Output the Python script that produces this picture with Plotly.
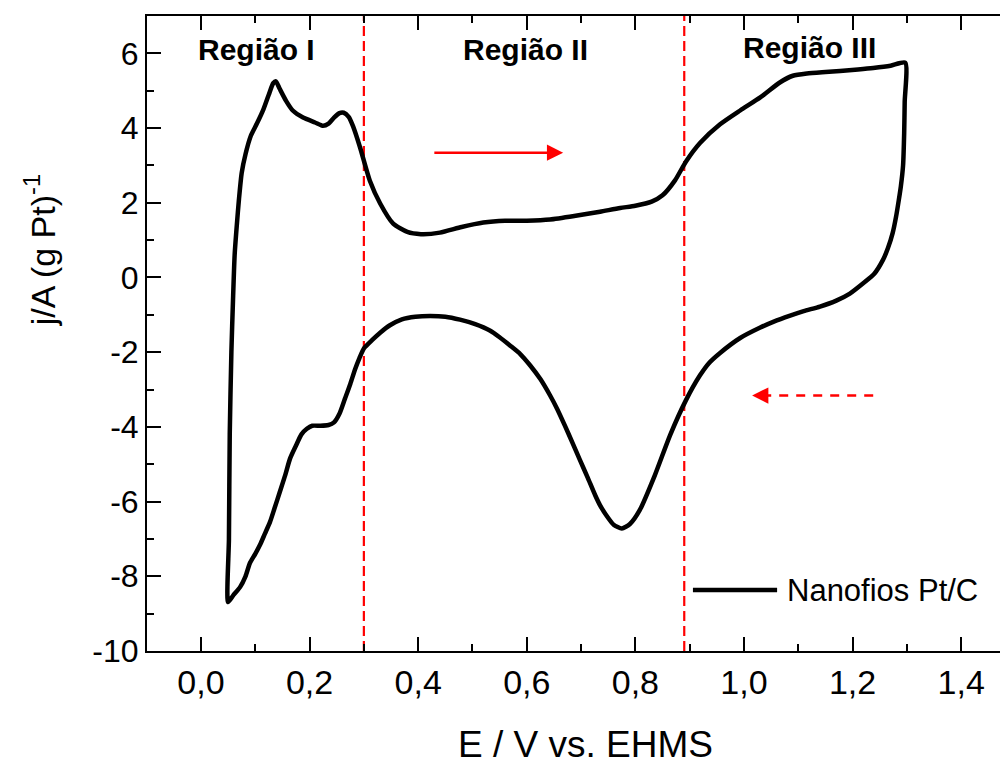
import plotly.graph_objects as go

# ---- data ----
E_anodic = [0.050, 0.0515, 0.053, 0.056, 0.059, 0.062, 0.066, 0.070, 0.075, 0.082, 0.092, 0.103,
            0.115, 0.125, 0.133, 0.138, 0.145, 0.157, 0.169, 0.188, 0.210, 0.225, 0.235, 0.245,
            0.255, 0.263, 0.272, 0.280, 0.293, 0.311, 0.330, 0.354, 0.380, 0.405, 0.440, 0.480,
            0.520, 0.560, 0.600, 0.643, 0.690, 0.735, 0.772, 0.800, 0.830, 0.850, 0.873, 0.893,
            0.919, 0.956, 0.993, 1.030, 1.066, 1.090, 1.116, 1.150, 1.177, 1.210, 1.238, 1.270, 1.297]
j_anodic = [-8.69, -7.0, -4.2, -2.0, -0.6, 0.6, 1.4, 2.1, 2.8, 3.3, 3.8, 4.12,
            4.5, 4.9, 5.2, 5.25, 5.05, 4.72, 4.47, 4.28, 4.15, 4.06, 4.12, 4.28,
            4.40, 4.41, 4.30, 4.05, 3.48, 2.59, 1.98, 1.44, 1.22, 1.16, 1.20, 1.35,
            1.47, 1.52, 1.52, 1.55, 1.65, 1.76, 1.86, 1.92, 2.03, 2.20, 2.60, 3.10,
            3.60, 4.10, 4.47, 4.82, 5.22, 5.40, 5.46, 5.50, 5.53, 5.57, 5.61, 5.67, 5.75]

E_cathodic = [1.297, 1.296, 1.295, 1.293, 1.289, 1.285, 1.280, 1.274, 1.265, 1.256, 1.240, 1.219,
              1.195, 1.170, 1.140, 1.110, 1.085, 1.055, 1.030, 0.993, 0.956, 0.935, 0.919, 0.893,
              0.864, 0.836, 0.808, 0.790, 0.775, 0.760, 0.748, 0.735, 0.726, 0.712, 0.698, 0.684,
              0.670, 0.656, 0.643, 0.625, 0.606, 0.588, 0.569, 0.550, 0.532, 0.505, 0.477, 0.450,
              0.422, 0.395, 0.370, 0.348, 0.330, 0.315, 0.300, 0.292, 0.284, 0.275, 0.265, 0.255,
              0.245, 0.235, 0.220, 0.205, 0.195, 0.185, 0.175, 0.164, 0.155, 0.145, 0.135, 0.127,
              0.118, 0.109, 0.100, 0.090, 0.082, 0.072, 0.060, 0.050]
j_cathodic = [5.75, 4.7, 3.85, 3.0, 2.45, 2.06, 1.62, 1.20, 0.78, 0.47, 0.10, -0.16,
              -0.43, -0.62, -0.78, -0.90, -1.02, -1.18, -1.34, -1.62, -2.02, -2.30, -2.62, -3.29,
              -4.22, -5.29, -6.23, -6.60, -6.72, -6.62, -6.40, -6.10, -5.83, -5.35, -4.89, -4.42,
              -3.96, -3.52, -3.16, -2.72, -2.35, -2.05, -1.82, -1.60, -1.42, -1.25, -1.13, -1.05,
              -1.03, -1.05, -1.12, -1.28, -1.48, -1.68, -1.90, -2.15, -2.45, -2.85, -3.25, -3.65,
              -3.88, -3.95, -3.97, -3.97, -4.05, -4.20, -4.50, -4.85, -5.30, -5.75, -6.20, -6.55,
              -6.85, -7.15, -7.40, -7.65, -8.00, -8.29, -8.50, -8.69]

series_name = "Nanofios Pt/C"

x_tick_vals = [0.0, 0.2, 0.4, 0.6, 0.8, 1.0, 1.2, 1.4]
x_tick_text = ["0,0", "0,2", "0,4", "0,6", "0,8", "1,0", "1,2", "1,4"]
y_tick_vals = [-10, -8, -6, -4, -2, 0, 2, 4, 6]
y_tick_text = ["-10", "-8", "-6", "-4", "-2", "0", "2", "4", "6"]

region_boundaries = [0.30, 0.89]
region_labels = ["Região I", "Região II", "Região III"]
region_label_x = [0.103, 0.597, 1.12]
region_label_y = [6.1, 6.1, 6.15]

x_title = "E / V vs. EHMS"
y_title = "j/A (g Pt)<sup>-1</sup>"

# ---- figure ----
E_all = E_anodic + E_cathodic[1:]
j_all = j_anodic + j_cathodic[1:]

FONT = "Liberation Sans, Arial, sans-serif"

fig = go.Figure()
fig.add_trace(go.Scatter(
    x=E_all, y=j_all, mode="lines", name=series_name,
    line=dict(color="black", width=4.5, shape="spline", smoothing=0.6),
    showlegend=False,
))

# region boundaries
for xb in region_boundaries:
    fig.add_shape(type="line", xref="x", yref="paper", x0=xb, x1=xb, y0=0, y1=1,
                  line=dict(color="#ff0000", width=2.2, dash="10px,5px"), layer="below")

# region labels
for lab, lx, ly in zip(region_labels, region_label_x, region_label_y):
    fig.add_annotation(x=lx, y=ly, xref="x", yref="y", text="<b>%s</b>" % lab,
                       showarrow=False, xanchor="center", yanchor="middle",
                       font=dict(family=FONT, size=30, color="black"))

# forward sweep arrow (solid)
fig.add_annotation(x=0.667, y=3.34, ax=0.427, ay=3.34, xref="x", yref="y",
                   axref="x", ayref="y", text="", showarrow=True,
                   arrowhead=2, arrowsize=1.3, arrowwidth=2.5, arrowcolor="#ff0000")
# backward sweep arrow (dashed)
fig.add_shape(type="line", xref="x", yref="y", x0=1.238, x1=1.04, y0=-3.16, y1=-3.16,
              line=dict(color="#ff0000", width=2.5, dash="9px,8px"))
fig.add_annotation(x=1.015, y=-3.16, ax=1.045, ay=-3.16, xref="x", yref="y",
                   axref="x", ayref="y", text="", showarrow=True,
                   arrowhead=2, arrowsize=1.3, arrowwidth=2.5, arrowcolor="#ff0000")

# legend (manual)
fig.add_shape(type="line", xref="x", yref="y", x0=0.906, x1=1.061, y0=-8.37, y1=-8.37,
              line=dict(color="black", width=4.5))
fig.add_annotation(x=1.075, y=-8.37, xref="x", yref="y", text=series_name,
                   showarrow=False, xanchor="left", yanchor="middle",
                   font=dict(family=FONT, size=31, color="black"))

# axis titles
fig.add_annotation(x=0.5135, y=-0.148, xref="paper", yref="paper", text=x_title,
                   showarrow=False, xanchor="center", yanchor="middle",
                   font=dict(family=FONT, size=37, color="black"))
fig.add_annotation(x=-0.125, y=0.6315, xref="paper", yref="paper", text=y_title,
                   showarrow=False, xanchor="center", yanchor="middle", textangle=-90,
                   font=dict(family=FONT, size=34, color="black"))

fig.update_layout(
    width=1000, height=764,
    margin=dict(l=147, r=0, t=16, b=113),
    paper_bgcolor="white", plot_bgcolor="white",
    font=dict(family=FONT, color="black"),
    xaxis=dict(range=[-0.0994, 1.4715], showgrid=False, zeroline=False,
               showline=True, linecolor="black", linewidth=2, mirror="ticks",
               ticks="inside", ticklen=14, tickwidth=2, tickcolor="black",
               tickvals=x_tick_vals, ticktext=x_tick_text,
               tickfont=dict(family=FONT, size=34, color="black"),
               minor=dict(dtick=0.1, tick0=0, ticks="inside", ticklen=7, tickwidth=2,
                          tickcolor="black", showgrid=False)),
    yaxis=dict(range=[-10, 7], showgrid=False, zeroline=False,
               showline=True, linecolor="black", linewidth=2, mirror=False,
               ticks="inside", ticklen=14, tickwidth=2, tickcolor="black",
               tickvals=y_tick_vals, ticktext=y_tick_text,
               tickfont=dict(family=FONT, size=32, color="black"),
               minor=dict(dtick=1, tick0=0, ticks="inside", ticklen=7, tickwidth=2,
                          tickcolor="black", showgrid=False)),
    showlegend=False,
)

fig.write_html("out.html")
